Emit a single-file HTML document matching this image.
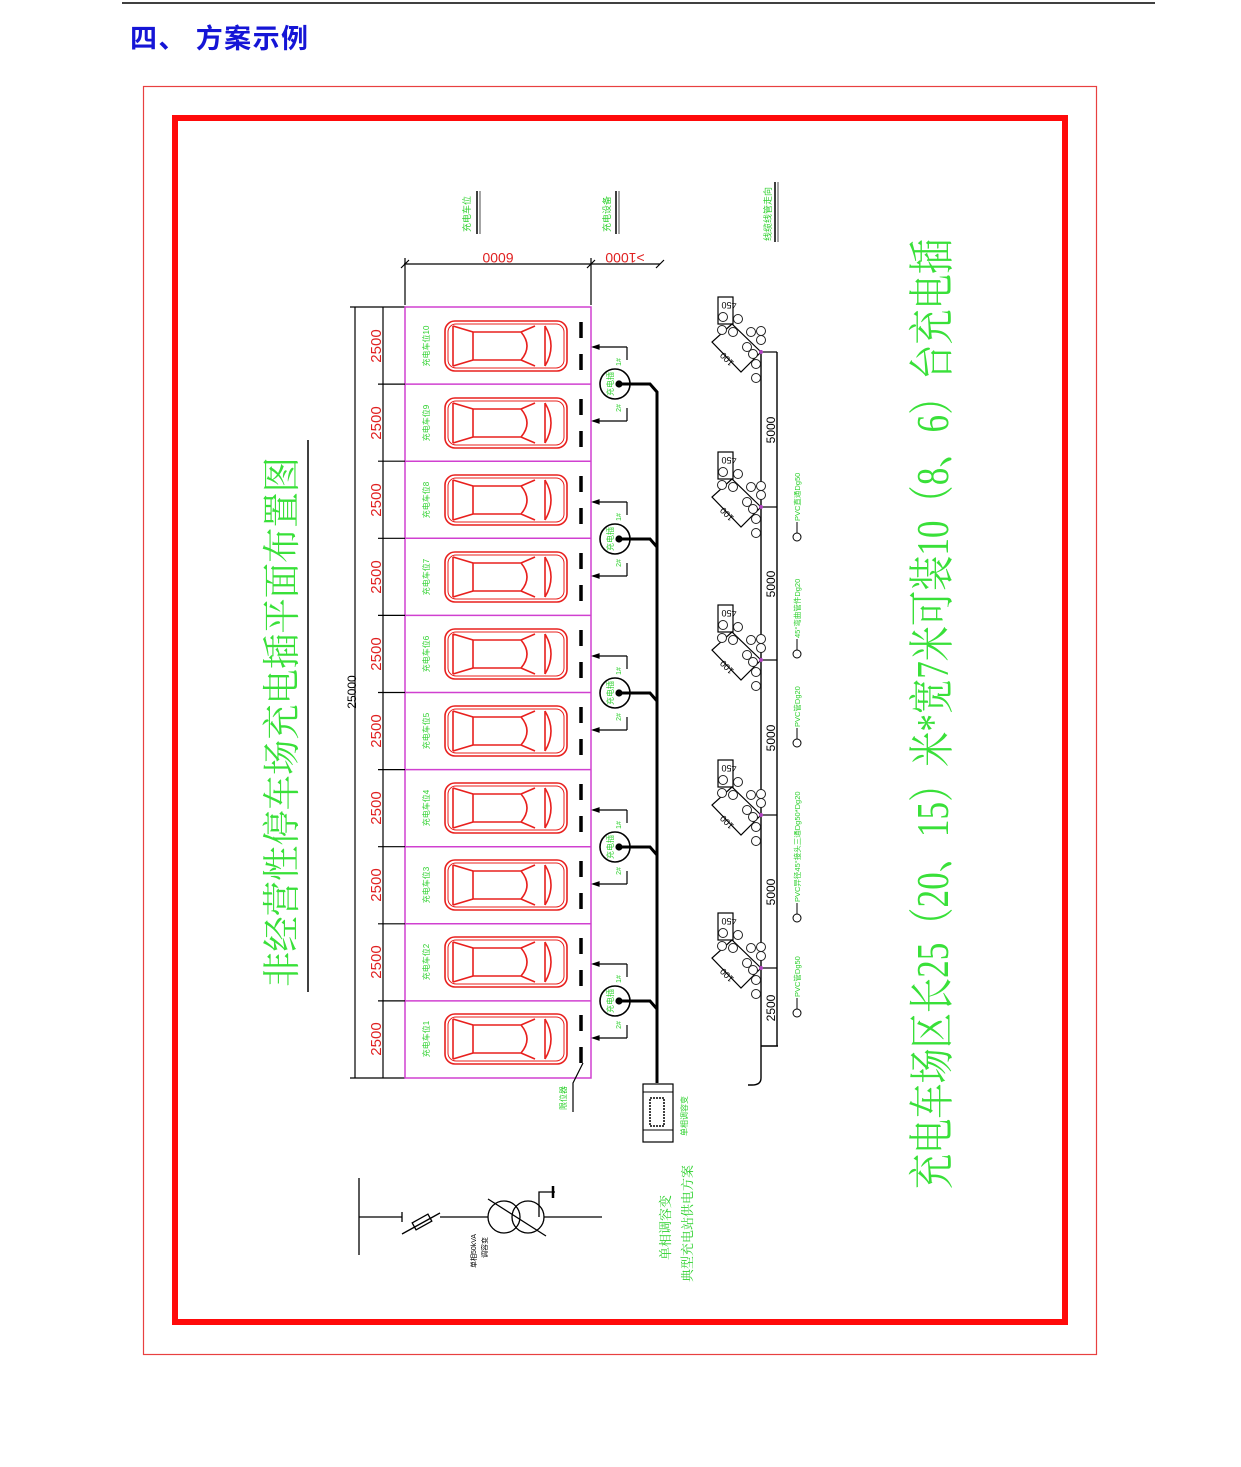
<!DOCTYPE html>
<html><head><meta charset="utf-8"><style>
html,body{margin:0;padding:0;background:#fff;}
svg{display:block;}
text{font-family:"Liberation Sans","Noto Sans CJK SC",sans-serif;}
text.serif{font-family:"Liberation Serif","Noto Serif CJK SC",serif;}
</style></head><body>
<svg width="1241" height="1467" viewBox="0 0 1241 1467" xmlns="http://www.w3.org/2000/svg">
<defs>
<g id="car" fill="none" stroke="#e8201e" stroke-width="1.6">
 <rect x="0" y="-25" width="122" height="50" rx="10"/>
 <rect x="3" y="-22" width="116" height="44" rx="8" stroke-width="1"/>
 <path d="M8 -20 L8 20 M8 -20 L28 -14 L28 14 L8 20 M28 -14 L76 -14 M28 14 L76 14 M76 -14 Q88 0 76 14 M76 -14 L90 -20 M76 14 L90 20 M100 -20 L100 20 M100 -20 Q112 0 100 20"/>
</g>
<g id="grp" fill="none" stroke="#000" stroke-width="1.2">
 <path d="M0 0 L-29 -28 L-49 -10 L-20 20 Z"/>
 <rect x="-43" y="-55" width="15" height="27"/>
 <g stroke="#222" fill="#fff" stroke-width="1">
 <circle cx="-38" cy="-35" r="4.5"/><circle cx="-23" cy="-33" r="4.5"/><circle cx="-39" cy="-22" r="4.5"/>
 <circle cx="-28" cy="-20" r="4.5"/><circle cx="-10" cy="-20" r="4.5"/><circle cx="0" cy="-21" r="4.5"/>
 <circle cx="0" cy="-12" r="4.5"/><circle cx="-14" cy="-5" r="4.5"/><circle cx="-8" cy="2" r="4.5"/>
 <circle cx="-5" cy="12" r="4.5"/><circle cx="-5" cy="26" r="4.5"/>
 </g>
 <line x1="0" y1="0" x2="16" y2="0"/>
 <circle cx="0" cy="0" r="2" fill="#b040c0" stroke="none"/>
 <text transform="translate(-32,-50) rotate(180)" font-size="9" fill="#000" stroke="none" text-anchor="middle">450</text>
 <text transform="translate(-32,5) rotate(225)" font-size="9" fill="#000" stroke="none" text-anchor="middle">100</text>
</g>
<g id="chg" fill="none" stroke="#000" stroke-width="1.2">
 <circle cx="0" cy="0" r="15" stroke-width="1.6"/>
 <path d="M12 -37 L12 -24 M12 24 L12 37"/>
 <path d="M-22 -37 L12 -37 M-22 37 L12 37"/>
 <path d="M-22 -37 l6 -2 l0 4 z M-22 37 l6 -2 l0 4 z" fill="#000"/>
 <circle cx="4" cy="0" r="3" fill="#000"/>
 <text transform="translate(-2,0) rotate(-90)" font-size="8" fill="#2ed12e" stroke="none" text-anchor="middle">充电插</text>
 <text transform="translate(6,-22) rotate(-90)" font-size="7" fill="#2ed12e" stroke="none" text-anchor="middle">1#</text>
 <text transform="translate(6,24) rotate(-90)" font-size="7" fill="#2ed12e" stroke="none" text-anchor="middle">2#</text>
</g>
</defs>

<line x1="122" y1="3" x2="1155" y2="3" stroke="#000" stroke-width="1.5"/>
<text x="130" y="48" font-size="27" font-weight="bold" fill="#1515d6" textLength="178" lengthAdjust="spacing">四、 方案示例</text>

<rect x="143.5" y="86.5" width="953" height="1268" fill="none" stroke="#e84040" stroke-width="1.2"/>
<rect x="175" y="118" width="890" height="1204" fill="none" stroke="#ff0a0a" stroke-width="6"/>

<text class="serif" transform="translate(295,722) rotate(-90)" font-size="38" fill="#39e039" text-anchor="middle" textLength="530" lengthAdjust="spacingAndGlyphs">非经营性停车场充电插平面布置图</text>
<line x1="308" y1="440" x2="308" y2="992" stroke="#000" stroke-width="1.5"/>

<text class="serif" transform="translate(948,714) rotate(-90)" font-size="46" fill="#39e039" text-anchor="middle" textLength="950" lengthAdjust="spacingAndGlyphs">充电车场区长25（20、15）米*宽7米可装10（8、6）台充电插</text>

<g font-size="9" fill="#2ed12e">
<text transform="translate(470,214) rotate(-90)" text-anchor="middle">充电车位</text>
<text transform="translate(610,214) rotate(-90)" text-anchor="middle">充电设备</text>
<text transform="translate(771,214) rotate(-90)" text-anchor="middle">线缆线管走向</text>
</g>
<g stroke="#000" stroke-width="1.5">
<line x1="477" y1="191" x2="477" y2="234"/><line x1="480" y1="191" x2="480" y2="234" stroke="#888"/>
<line x1="616" y1="191" x2="616" y2="234"/><line x1="619" y1="191" x2="619" y2="234" stroke="#888"/>
<line x1="775" y1="182" x2="775" y2="242"/><line x1="778" y1="182" x2="778" y2="242" stroke="#888"/>
</g>

<g stroke="#000" stroke-width="1.2" fill="none">
<line x1="404" y1="264" x2="660" y2="264"/>
<line x1="405" y1="258" x2="405" y2="305"/>
<line x1="591" y1="258" x2="591" y2="305"/>
<path d="M401 268 L409 260 M587 268 L595 260 M656 268 L664 260"/>
</g>
<text transform="translate(498,253) rotate(180)" font-size="14" fill="#e02020" text-anchor="middle">6000</text>
<text transform="translate(625,253) rotate(180)" font-size="14" fill="#e02020" text-anchor="middle">&gt;1000</text>

<g stroke="#000" stroke-width="1.2">
<line x1="355" y1="307" x2="355" y2="1078"/>
<line x1="383" y1="307" x2="383" y2="1078"/>
<line x1="350" y1="307" x2="405" y2="307"/>
<line x1="350" y1="1078" x2="405" y2="1078"/>
</g>
<text transform="translate(356,692) rotate(-90)" font-size="12" fill="#000" text-anchor="middle">25000</text>

<rect x="405" y="307" width="186" height="771" fill="none" stroke="#d040d0" stroke-width="1.5"/>
<g stroke="#d040d0" stroke-width="1.5">
<line x1="405" y1="384.1" x2="591" y2="384.1"/><line x1="405" y1="461.2" x2="591" y2="461.2"/>
<line x1="405" y1="538.3" x2="591" y2="538.3"/><line x1="405" y1="615.4" x2="591" y2="615.4"/>
<line x1="405" y1="692.5" x2="591" y2="692.5"/><line x1="405" y1="769.6" x2="591" y2="769.6"/>
<line x1="405" y1="846.7" x2="591" y2="846.7"/><line x1="405" y1="923.8" x2="591" y2="923.8"/>
<line x1="405" y1="1000.9" x2="591" y2="1000.9"/>
</g>
<g stroke="#000" stroke-width="1.2">
<line x1="378" y1="384.1" x2="405" y2="384.1"/><line x1="378" y1="461.2" x2="405" y2="461.2"/>
<line x1="378" y1="538.3" x2="405" y2="538.3"/><line x1="378" y1="615.4" x2="405" y2="615.4"/>
<line x1="378" y1="692.5" x2="405" y2="692.5"/><line x1="378" y1="769.6" x2="405" y2="769.6"/>
<line x1="378" y1="846.7" x2="405" y2="846.7"/><line x1="378" y1="923.8" x2="405" y2="923.8"/>
<line x1="378" y1="1000.9" x2="405" y2="1000.9"/>
</g>
<g font-size="15" fill="#e02020" text-anchor="middle">
<text transform="translate(381,346) rotate(-90)">2500</text>
<text transform="translate(381,423) rotate(-90)">2500</text>
<text transform="translate(381,500) rotate(-90)">2500</text>
<text transform="translate(381,577) rotate(-90)">2500</text>
<text transform="translate(381,654) rotate(-90)">2500</text>
<text transform="translate(381,731) rotate(-90)">2500</text>
<text transform="translate(381,808) rotate(-90)">2500</text>
<text transform="translate(381,885) rotate(-90)">2500</text>
<text transform="translate(381,962) rotate(-90)">2500</text>
<text transform="translate(381,1039) rotate(-90)">2500</text>
</g>
<g font-size="8" fill="#2ed12e" text-anchor="middle">
<text transform="translate(429,346) rotate(-90)">充电车位10</text>
<text transform="translate(429,423) rotate(-90)">充电车位9</text>
<text transform="translate(429,500) rotate(-90)">充电车位8</text>
<text transform="translate(429,577) rotate(-90)">充电车位7</text>
<text transform="translate(429,654) rotate(-90)">充电车位6</text>
<text transform="translate(429,731) rotate(-90)">充电车位5</text>
<text transform="translate(429,808) rotate(-90)">充电车位4</text>
<text transform="translate(429,885) rotate(-90)">充电车位3</text>
<text transform="translate(429,962) rotate(-90)">充电车位2</text>
<text transform="translate(429,1039) rotate(-90)">充电车位1</text>
</g>
<use href="#car" x="445" y="346"/><use href="#car" x="445" y="423"/>
<use href="#car" x="445" y="500"/><use href="#car" x="445" y="577"/>
<use href="#car" x="445" y="654"/><use href="#car" x="445" y="731"/>
<use href="#car" x="445" y="808"/><use href="#car" x="445" y="885"/>
<use href="#car" x="445" y="962"/><use href="#car" x="445" y="1039"/>
<g stroke="#000" stroke-width="3.5">
<path d="M581 322v16 M581 354v16 M581 399v16 M581 431v16 M581 476v16 M581 508v16 M581 553v16 M581 585v16 M581 630v16 M581 662v16 M581 707v16 M581 739v16 M581 784v16 M581 816v16 M581 861v16 M581 893v16 M581 938v16 M581 970v16 M581 1015v16 M581 1047v16"/>
</g>
<path d="M583 1063 L573 1083 L573 1112" stroke="#000" stroke-width="1.2" fill="none"/>
<text transform="translate(566,1098) rotate(-90)" font-size="8" fill="#2ed12e" text-anchor="middle">限位器</text>

<use href="#chg" x="615" y="384"/><use href="#chg" x="615" y="539"/>
<use href="#chg" x="615" y="693"/><use href="#chg" x="615" y="847"/>
<use href="#chg" x="615" y="1001"/>
<g stroke="#000" stroke-width="3" fill="none">
<path d="M619 384 H650 L657 392 V1083"/>
<path d="M619 539 H650 L657 547"/>
<path d="M619 693 H650 L657 701"/>
<path d="M619 847 H650 L657 855"/>
<path d="M619 1001 H650 L657 1009"/>
</g>
<rect x="643" y="1084" width="30" height="58" fill="#fff" stroke="#000" stroke-width="1.2"/>
<line x1="643" y1="1092" x2="673" y2="1092" stroke="#000"/><line x1="643" y1="1130" x2="673" y2="1130" stroke="#000"/>
<rect x="650" y="1098" width="14" height="28" fill="none" stroke="#000" stroke-width="1.5" stroke-dasharray="2 1"/>
<text transform="translate(687,1116) rotate(-90)" font-size="8" fill="#2ed12e" text-anchor="middle">单相调容变</text>

<g stroke="#000" stroke-width="1.4" fill="none">
<path d="M761 350 V1078 Q761 1085 752 1085 H748"/>
<line x1="777" y1="352" x2="777" y2="1046"/>
<line x1="761" y1="1046" x2="778" y2="1046"/>
</g>
<use href="#grp" x="761" y="352"/><use href="#grp" x="761" y="507"/>
<use href="#grp" x="761" y="660"/><use href="#grp" x="761" y="815"/>
<use href="#grp" x="761" y="968"/>
<g font-size="12" fill="#000" text-anchor="middle">
<text transform="translate(775,430) rotate(-90)">5000</text>
<text transform="translate(775,584) rotate(-90)">5000</text>
<text transform="translate(775,738) rotate(-90)">5000</text>
<text transform="translate(775,892) rotate(-90)">5000</text>
<text transform="translate(775,1008) rotate(-90)">2500</text>
</g>
<g stroke="#000" stroke-width="1" fill="#fff">
<circle cx="797" cy="537" r="4"/><line x1="797" y1="533" x2="797" y2="522"/>
<circle cx="797" cy="654" r="4"/><line x1="797" y1="650" x2="797" y2="639"/>
<circle cx="797" cy="743" r="4"/><line x1="797" y1="739" x2="797" y2="728"/>
<circle cx="797" cy="918" r="4"/><line x1="797" y1="914" x2="797" y2="903"/>
<circle cx="797" cy="1013" r="4"/><line x1="797" y1="1009" x2="797" y2="998"/>
</g>
<g font-size="7.5" fill="#2ed12e">
<text transform="translate(800,521) rotate(-90)">PVC直通Dg50</text>
<text transform="translate(800,638) rotate(-90)">45°弯曲管件Dg20</text>
<text transform="translate(800,727) rotate(-90)">PVC管Dg20</text>
<text transform="translate(800,902) rotate(-90)">PVC异径45°接头三通Dg50*Dg20</text>
<text transform="translate(800,997) rotate(-90)">PVC管Dg50</text>
</g>

<g stroke="#000" stroke-width="1.3" fill="none">
<line x1="359" y1="1178" x2="359" y2="1255"/>
<path d="M359 1217 H402 M402 1212 V1222"/>
<path d="M402 1234 L440 1213"/>
<rect x="413" y="1218" width="18" height="8" transform="rotate(-29 422 1222)"/>
<line x1="440" y1="1217" x2="488" y2="1217"/>
<circle cx="504" cy="1217" r="16"/><circle cx="528" cy="1217" r="16"/>
<path d="M488 1199 L546 1236"/>
<path d="M544 1217 H602"/>
<path d="M539 1217 V1192 H555"/>
<path d="M553 1186 V1198" stroke-width="2.5"/>
</g>
<g font-size="7" fill="#000">
<text transform="translate(476,1268) rotate(-90)">单相50kVA</text>
<text transform="translate(487,1258) rotate(-90)">调容变</text>
</g>
<g font-size="13" fill="#2ed12e">
<text class="serif" transform="translate(670,1260) rotate(-90)">单相调容变</text>
<text class="serif" transform="translate(692,1282) rotate(-90)">典型充电站供电方案</text>
</g>
</svg>
</body></html>
